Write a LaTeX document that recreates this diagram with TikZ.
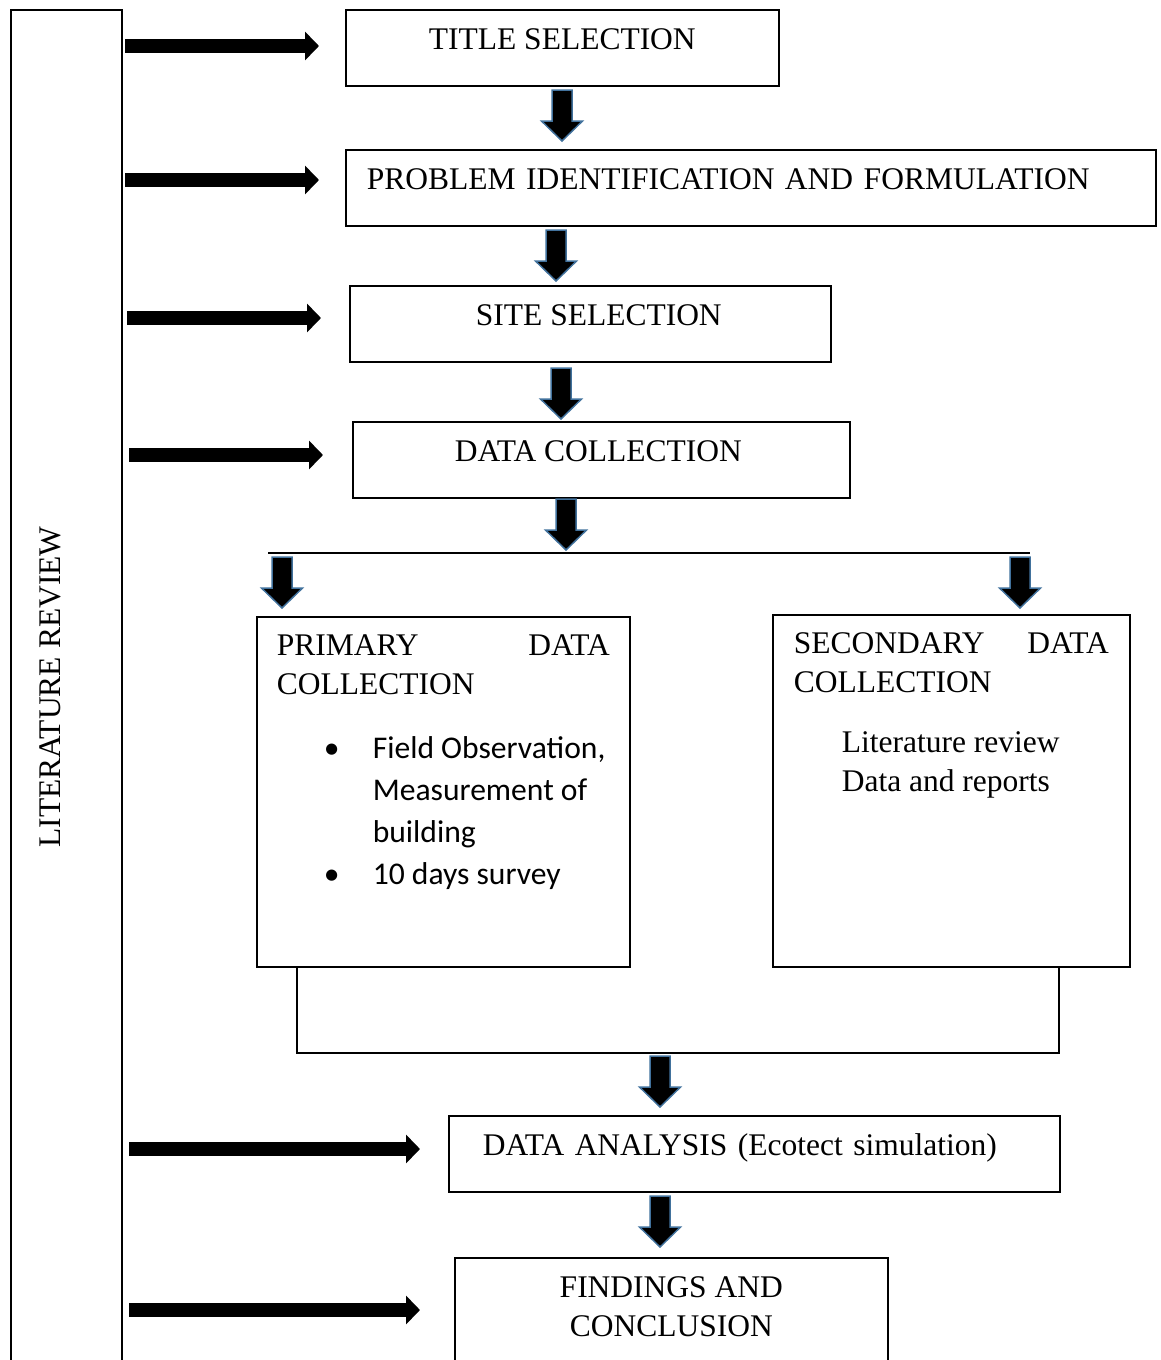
\documentclass[tikz,border=0pt]{standalone}
\usepackage{fontspec}
\setmainfont{Liberation Serif}
\newfontfamily\bodysans{Carlito}
\usetikzlibrary{arrows.meta}
\definecolor{dropedge}{RGB}{65,113,156}
\newcommand{\listdot}{\makebox[96pt][l]{\hspace*{45pt}\makebox[20pt]{\textbullet}}}

\tikzset{
  stage/.style={draw, line width=1.6pt, anchor=north west, inner ysep=0pt,
    text height=40pt, text depth=36pt, font=\fontsize{31.5}{39}\selectfont},
  panel/.style={draw, line width=1.6pt, anchor=north west, font=\fontsize{31.5}{39}\selectfont},
  feed/.style={line width=14pt, -{Triangle[length=14pt,width=28pt]}},
  link/.style={line width=1.4pt},
  drop/.pic={\filldraw[fill=black, draw=dropedge, line width=1.5pt]
    (-10,0) -- (10,0) -- (10,31) -- (20.5,31) -- (0,51) -- (-20.5,31) -- (-10,31) -- cycle;}
}

\begin{document}
\begin{tikzpicture}[x=1pt, y=-1pt]
    \useasboundingbox (0,0) rectangle (1160,1360);

    % Literature review column
    \node[draw, line width=1.6pt, anchor=north west, minimum width=111pt, minimum height=1420pt] (lit) at (10,9) {};
    \node[rotate=90, font=\fontsize{31.5}{39}\selectfont] (littext) at (50,687) {LITERATURE REVIEW};

    % Main stages
    \node[stage, minimum width=433pt] (title) at (345,9) {TITLE SELECTION};
    \node[stage, text width=768pt, inner xsep=21pt, align=left] (problem) at (345,149) {PROBLEM IDENTIFICATION AND FORMULATION};
    \node[stage, minimum width=481pt] (site) at (349,285) {\hspace*{17pt}SITE SELECTION};
    \node[stage, minimum width=497pt] (data) at (352,421) {DATA COLLECTION\hspace*{6pt}};

    % Two kinds of data
    \node[panel, inner xsep=20pt, inner ysep=18pt] (primary) at (256,616) {\begin{minipage}[c][314pt][t]{333pt}\parskip=0pt
        PRIMARY\hfill DATA\\
        COLLECTION\par
        \vspace{22pt}
        {\bodysans\fontsize{31.6}{42}\selectfont
        \listdot Field Observation,\\
        \hspace*{96pt}Measurement of\\
        \hspace*{96pt}building\\
        \listdot 10 days survey\par}
    \end{minipage}};
    \node[panel, inner xsep=21pt, inner ysep=17.5pt] (secondary) at (772,614) {\begin{minipage}[c][317pt][t]{315pt}\parskip=0pt
        SECONDARY\hfill DATA\\
        COLLECTION\par
        \vspace{21pt}
        \hspace*{48pt}Literature review\\
        \hspace*{48pt}Data and reports
    \end{minipage}};

    % Last stages
    \node[stage, text width=543pt, inner xsep=34pt, align=left] (analysis) at (448,1115) {DATA ANALYSIS (Ecotect simulation)};
    \node[panel, inner xsep=10pt, inner ysep=19pt] (findings) at (454,1257) {\begin{minipage}[c][150pt][t]{413pt}\centering
        FINDINGS AND\\
        CONCLUSION
    \end{minipage}};

    % Split and merge lines
    \coordinate (splitL) at (268,553);
    \coordinate (splitR) at (1030,553);
    \draw[link] (splitL) -- (splitR);
    \coordinate (mergeL) at (297,968);
    \coordinate (mergeR) at (1059,968);
    \draw[link] (mergeL) |- (mergeR |- 0,1053) -- (mergeR);

    % Block arrows down
    \foreach \x/\y in {562/90, 556/230, 561/368, 566/499, 282/557, 1020/557, 660/1056, 660/1196}
        \pic at (\x,\y) {drop};

    % Arrows from the review
    \foreach \y/\xa/\xb [count=\i] in {46/125/319, 180/125/319, 318/127/321, 455/129/323, 1149/129/420, 1310/129/420} {
        \coordinate (feedin\i) at (\xa,\y);
        \coordinate (feedout\i) at (\xb,\y);
        \draw[feed] (feedin\i) -- (feedout\i);
    }

\end{tikzpicture}
\end{document}
